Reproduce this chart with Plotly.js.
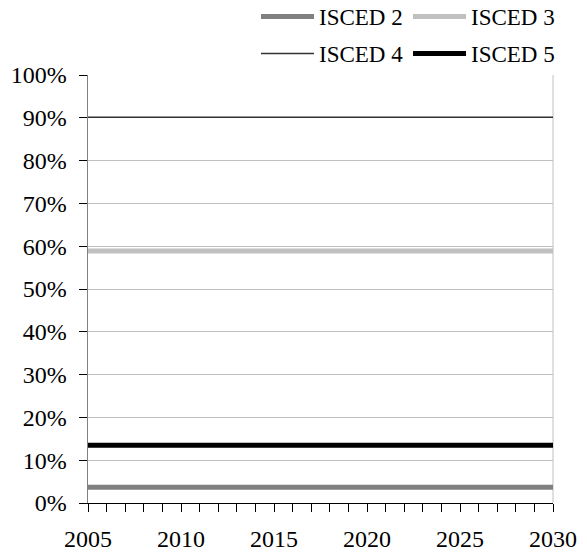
<!DOCTYPE html>
<html>
<head>
<meta charset="utf-8">
<script src="https://cdn.plot.ly/plotly-3.0.1.min.js"></script>
<style>html,body{margin:0;padding:0;background:#fff;}#chart{width:587px;height:553px;}</style>
</head>
<body>
<div id="chart"></div>
<script>
const years = [2005,2006,2007,2008,2009,2010,2011,2012,2013,2014,2015,2016,2017,2018,2019,2020,2021,2022,2023,2024,2025,2026,2027,2028,2029,2030];
const isced2 = [0.037,0.037,0.037,0.037,0.037,0.037,0.037,0.037,0.037,0.037,0.037,0.037,0.037,0.037,0.037,0.037,0.037,0.037,0.037,0.037,0.037,0.037,0.037,0.037,0.037,0.037];
const isced3 = [0.589,0.589,0.589,0.589,0.589,0.589,0.589,0.589,0.589,0.589,0.589,0.589,0.589,0.589,0.589,0.589,0.589,0.589,0.589,0.589,0.589,0.589,0.589,0.589,0.589,0.589];
const isced4 = [0.901,0.901,0.901,0.901,0.901,0.901,0.901,0.901,0.901,0.901,0.901,0.901,0.901,0.901,0.901,0.901,0.901,0.901,0.901,0.901,0.901,0.901,0.901,0.901,0.901,0.901];
const isced5 = [0.135,0.135,0.135,0.135,0.135,0.135,0.135,0.135,0.135,0.135,0.135,0.135,0.135,0.135,0.135,0.135,0.135,0.135,0.135,0.135,0.135,0.135,0.135,0.135,0.135,0.135];
const seriesNames = ['ISCED 2','ISCED 3','ISCED 4','ISCED 5'];
const yTickVals = [0,0.1,0.2,0.3,0.4,0.5,0.6,0.7,0.8,0.9,1.0];
const yTickText = ['0%','10%','20%','30%','40%','50%','60%','70%','80%','90%','100%'];
const xTickVals = [2005,2010,2015,2020,2025,2030];

const fam = '"Liberation Serif", "Times New Roman", serif';
const axisFont = {family: fam, size: 24, color: '#000'};
const legendFont = {family: fam, size: 23, color: '#000'};

const traces = [
  {x: years, y: isced2, name: seriesNames[0], mode: 'lines', line: {color: '#808080', width: 5}, legend: 'legend'},
  {x: years, y: isced3, name: seriesNames[1], mode: 'lines', line: {color: '#c0c0c0', width: 5}, legend: 'legend'},
  {x: years, y: isced4, name: seriesNames[2], mode: 'lines', line: {color: '#333333', width: 1.5}, legend: 'legend2'},
  {x: years, y: isced5, name: seriesNames[3], mode: 'lines', line: {color: '#000000', width: 5}, legend: 'legend2'}
];

const legendCommon = {
  orientation: 'h', xref: 'paper', yref: 'container', xanchor: 'left', yanchor: 'middle',
  font: legendFont, bgcolor: 'rgba(0,0,0,0)', itemwidth: 53, entrywidth: 84, tracegroupgap: 0, itemclick: false
};

const layout = {
  width: 587, height: 553,
  margin: {l: 88, r: 34, t: 75, b: 50},
  paper_bgcolor: '#fff', plot_bgcolor: '#fff',
  font: axisFont,
  showlegend: true,
  legend: Object.assign({}, legendCommon, {x: (256 - 88) / 465, y: 1 - 16.5 / 553}),
  legend2: Object.assign({}, legendCommon, {x: (256 - 88) / 465, y: 1 - 53.5 / 553}),
  xaxis: {
    range: [2005, 2030], tickmode: 'array', tickvals: xTickVals, ticktext: xTickVals.map(String),
    ticks: 'outside', ticklen: 8, tickwidth: 1, tickcolor: '#000',
    minor: {dtick: 1, ticks: 'outside', ticklen: 8, tickwidth: 1, tickcolor: '#000', showgrid: false, tick0: 2005},
    showgrid: false, zeroline: false, showline: true, linecolor: '#000', linewidth: 1,
    tickfont: axisFont, ticklabelstandoff: 6
  },
  yaxis: {
    range: [0, 1], tickmode: 'array', tickvals: yTickVals, ticktext: yTickText,
    ticks: 'outside', ticklen: 8, tickwidth: 1, tickcolor: '#000',
    showgrid: true, gridcolor: '#c0c0c0', gridwidth: 1, zeroline: false,
    showline: true, linecolor: '#808080', linewidth: 1.5,
    tickfont: axisFont, ticklabelstandoff: 7
  },
  shapes: [
    {type: 'line', xref: 'paper', yref: 'paper', x0: 1, x1: 1, y0: 0, y1: 1, line: {color: '#c0c0c0', width: 1}, layer: 'below'}
  ]
};

Plotly.newPlot('chart', traces, layout, {displayModeBar: false, staticPlot: true});
</script>
</body>
</html>
